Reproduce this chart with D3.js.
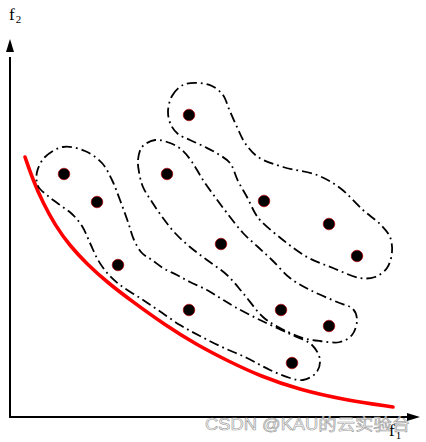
<!DOCTYPE html>
<html><head><meta charset="utf-8">
<script src="https://cdn.jsdelivr.net/npm/d3@7"></script>
<style>html,body{margin:0;padding:0;background:#fff;}svg{display:block;}</style>
</head><body>
<script>
// Data in chart units (f1 horizontal, f2 vertical)
const pointsF1 = [54, 87, 108, 179, 157, 211, 179, 254, 319, 347, 271, 319, 282];
const pointsF2 = [243, 215, 152, 302, 243, 173, 107, 216, 193, 161, 107, 91, 54];

const frontF1 = [15, 23, 33, 45, 60, 77, 98, 123, 155, 187, 220, 250, 290, 335, 383];
const frontF2 = [260, 237, 214, 192, 171, 153, 134, 115, 92, 72, 55, 41, 27, 17, 10];

const groupA = [[27,245],[35,260],[53,270],[75,266],[92,254],[102,237],[110,217],[118,195],[124,177],[132,164],[142,157],[153,149],[167,142],[180,135],[197,127],[210,119],[225,110],[250,97],[280,83],[302,72],[310,57],[306,44],[293,37],[280,39],[260,47],[237,59],[212,70],[190,81],[170,92],[148,107],[130,119],[110,132],[98,143],[88,157],[80,174],[72,191],[62,203],[50,212],[38,221],[28,231]];
const groupB = [[158,305],[162,321],[173,332],[188,334],[202,331],[213,322],[219,308],[227,290],[235,274],[248,260],[273,250],[307,242],[330,229],[353,207],[371,192],[380,180],[382,165],[377,149],[365,140],[350,139],[323,149],[297,160],[273,177],[250,197],[245,204],[237,220],[228,236],[220,254],[208,263],[195,270],[180,277],[168,283],[161,292]];
const groupC = [[129,245],[128,257],[132,270],[145,277],[160,274],[172,267],[182,255],[193,237],[205,220],[217,204],[233,184],[248,170],[262,157],[280,139],[300,127],[327,115],[343,108],[347,97],[342,82],[330,75],[310,76],[293,79],[270,89],[253,100],[233,124],[217,142],[197,157],[180,170],[165,184],[153,199],[142,215],[133,230]];

const xAxisLabel = "f", xAxisSub = "1";
const yAxisLabel = "f", yAxisSub = "2";
const watermark = "CSDN @KAU的云实验台";

const W = 426, H = 442;
const x = d3.scaleLinear().domain([0, 400]).range([10, 410]);
const y = d3.scaleLinear().domain([0, 400]).range([417, 17]);

const svg = d3.select("body").append("svg").attr("width", W).attr("height", H);

// Pareto front
const frontLine = d3.line().x(d => x(d[0])).y(d => y(d[1])).curve(d3.curveBasis);
svg.append("path")
  .attr("d", frontLine(frontF1.map((v, i) => [v, frontF2[i]])))
  .attr("fill", "none").attr("stroke", "#ff0000").attr("stroke-width", 3.6)
  .attr("stroke-linecap", "round");

// Cluster contours
const closed = d3.line().x(d => x(d[0])).y(d => y(d[1])).curve(d3.curveCatmullRomClosed.alpha(0.5));
[groupA, groupB, groupC].forEach(g => {
  svg.append("path").attr("d", closed(g))
    .attr("fill", "none").attr("stroke", "#000").attr("stroke-width", 1.8)
    .attr("stroke-dasharray", "10,4,1.8,4");
});

// Points
svg.selectAll("circle.pt").data(pointsF1.map((v, i) => [v, pointsF2[i]])).enter()
  .append("circle").attr("class", "pt")
  .attr("cx", d => x(d[0])).attr("cy", d => y(d[1])).attr("r", 5.8)
  .attr("fill", "#000").attr("stroke", "#b00000").attr("stroke-width", 0.7);

// Axes with arrows
svg.append("line").attr("x1", x(0)).attr("y1", y(0)).attr("x2", x(0)).attr("y2", y(360))
  .attr("stroke", "#000").attr("stroke-width", 2);
svg.append("line").attr("x1", x(0) - 1).attr("y1", y(0)).attr("x2", x(400)).attr("y2", y(0))
  .attr("stroke", "#000").attr("stroke-width", 2);
const yTip = y(378), xTip = x(410);
svg.append("path").attr("d", `M${x(0)},${yTip} L${x(0)-4},${yTip+13} L${x(0)+4},${yTip+13} Z`).attr("fill", "#000");
svg.append("path").attr("d", `M${xTip},${y(0)} L${xTip-13},${y(0)-4} L${xTip-13},${y(0)+4} Z`).attr("fill", "#000");

// Watermark
svg.append("text").attr("x", 205).attr("y", 430).text(watermark)
  .attr("font-family", "'Liberation Sans', 'Noto Sans CJK SC', sans-serif")
  .attr("font-size", 16).attr("textLength", 205).attr("lengthAdjust", "spacingAndGlyphs")
  .attr("fill", "#ffffff").attr("fill-opacity", 0.7)
  .attr("stroke", "#9a9a9a").attr("stroke-width", 0.6);

// Axis labels
const lab = (px, py, t, s) => {
  const tx = svg.append("text").attr("x", px).attr("y", py)
    .attr("font-family", "'Liberation Serif', 'DejaVu Serif', serif").attr("font-size", 17).attr("fill", "#000");
  tx.append("tspan").text(t);
  tx.append("tspan").attr("font-size", 11).attr("dy", 3).attr("dx", 1).text(s);
};
lab(9, 20, yAxisLabel, yAxisSub);
lab(389, 436, xAxisLabel, xAxisSub);
</script>
</body></html>
